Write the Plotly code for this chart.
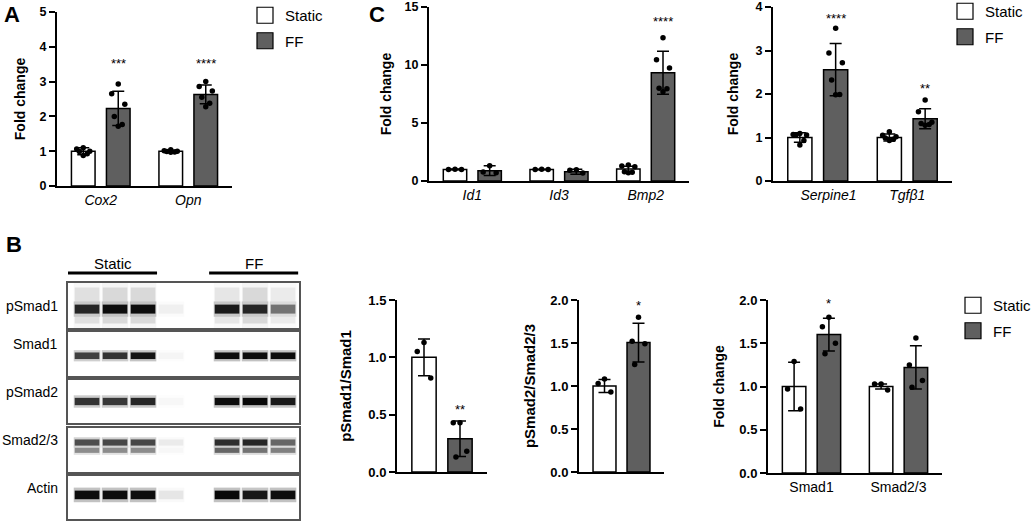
import plotly.graph_objects as go

W, H = 1031, 522
FONT = "Arial, 'Liberation Sans', Helvetica, sans-serif"
STATIC_FILL = "white"
FF_FILL = "#5f5f5f"

# ---- Panel A: Cox2 / Opn fold change (mean, SD, individual points)
a_genes = ["Cox2", "Opn"]
a_static_mean = [1.00, 1.00]
a_static_sd = [0.10, 0.03]
a_ff_mean = [2.23, 2.63]
a_ff_sd = [0.49, 0.27]
a_static_pts = [[1.10, 1.06, 1.00, 0.99, 0.93, 0.88], [1.04, 1.01, 1.00, 0.99, 0.98, 0.97]]
a_ff_pts = [[2.93, 2.65, 2.35, 2.00, 1.77, 1.72], [3.00, 2.86, 2.73, 2.55, 2.38, 2.28]]
a_stars = ["***", "****"]
a_star_y = [3.6, 3.6]

# ---- Panel C (left): Id1 / Id3 / Bmp2
c1_genes = ["Id1", "Id3", "Bmp2"]
c1_static_mean = [1.00, 1.00, 1.03]
c1_static_sd = [0.03, 0.02, 0.25]
c1_ff_mean = [0.89, 0.80, 9.33]
c1_ff_sd = [0.42, 0.22, 1.85]
c1_static_pts = [[1.02, 1.00, 0.99], [1.02, 1.00, 0.99], [1.38, 1.30, 1.22, 0.80, 0.76, 0.72]]
c1_ff_pts = [[1.32, 0.78, 0.72], [0.97, 0.93, 0.70], [12.35, 10.45, 9.75, 8.00, 7.95, 7.70]]
c1_stars = ["", "", "****"]
c1_star_y = [0, 0, 14.0]

# ---- Panel C (right): Serpine1 / Tgfb1
c2_genes = ["Serpine1", "Tgfβ1"]
c2_static_mean = [1.00, 1.00]
c2_static_sd = [0.11, 0.08]
c2_ff_mean = [2.56, 1.43]
c2_ff_sd = [0.60, 0.23]
c2_static_pts = [[1.09, 1.07, 1.06, 1.05, 0.93, 0.83], [1.13, 1.05, 1.02, 0.99, 0.96, 0.93]]
c2_ff_pts = [[3.51, 2.94, 2.72, 2.32, 1.99, 1.98], [1.86, 1.59, 1.35, 1.32, 1.30, 1.28]]
c2_stars = ["****", "**"]
c2_star_y = [3.80, 2.20]

# ---- Panel B quantification
b1_static_mean, b1_static_sd, b1_static_pts = [1.00], [0.16], [[1.13, 1.05, 0.82]]
b1_ff_mean, b1_ff_sd, b1_ff_pts = [0.29], [0.155], [[0.43, 0.43, 0.18, 0.13]]
b2_static_mean, b2_static_sd, b2_static_pts = [1.00], [0.075], [[1.08, 1.03, 0.93]]
b2_ff_mean, b2_ff_sd, b2_ff_pts = [1.505], [0.225], [[1.80, 1.52, 1.49, 1.25]]
b3_proteins = ["Smad1", "Smad2/3"]
b3_static_mean = [1.00, 1.00]
b3_static_sd = [0.28, 0.03]
b3_ff_mean = [1.60, 1.22]
b3_ff_sd = [0.19, 0.25]
b3_static_pts = [[1.29, 0.97, 0.74], [1.03, 1.03, 0.96]]
b3_ff_pts = [[1.80, 1.69, 1.50, 1.38], [1.56, 1.25, 1.07, 0.99]]

# ---- Panel B western blot (band darkness 0..1 per lane; lanes 0-2 Static, 3-4 empty, 5-7 FF)
blot_rows = ["pSmad1", "Smad1", "pSmad2", "Smad2/3", "Actin"]
lanes = [0, 1, 2, 3, 4, 5, 6, 7]
psmad1_smear = [0.12, 0.15, 0.15, 0.0, 0.0, 0.1, 0.15, 0.08]
psmad1_band = [0.85, 0.95, 0.95, 0.06, 0.0, 0.9, 0.85, 0.55]
smad1_band = [0.75, 0.8, 0.92, 0.04, 0.0, 0.95, 0.95, 0.95]
psmad2_band = [0.8, 0.78, 0.85, 0.03, 0.0, 0.95, 0.97, 0.9]
smad23_upper = [0.7, 0.72, 0.72, 0.08, 0.0, 0.82, 0.85, 0.6]
smad23_lower = [0.45, 0.45, 0.45, 0.03, 0.0, 0.6, 0.55, 0.5]
actin_band = [0.95, 0.95, 0.95, 0.1, 0.0, 0.97, 0.9, 0.95]

OFF, BW = 0.2, 0.27


def dom_x(a, b):
    return [a / W, b / W]


def dom_y(top, bottom):
    return [1 - bottom / H, 1 - top / H]


def spread(n):
    pattern = [0, -1, 1, -0.6, 0.6, 0, -1, 1]
    return [p * 0.075 for p in pattern[:n]]


def grey(v):
    g = round(255 * (1 - v))
    return f"rgb({g},{g},{g})"


fig = go.Figure()
annotations = []


def bar_panel(k, s_mean, s_sd, f_mean, f_sd, s_pts, f_pts, stars=None, star_y=None):
    xa, ya = f"x{k}", f"y{k}"
    xs = list(range(len(s_mean)))
    for sign, mean, sd, fill in [(-1, s_mean, s_sd, STATIC_FILL), (1, f_mean, f_sd, FF_FILL)]:
        fig.add_trace(go.Bar(
            x=[i + sign * OFF for i in xs], y=mean, width=BW,
            marker=dict(color=fill, line=dict(color="black", width=1.5)),
            error_y=dict(type="data", array=sd, color="black", thickness=1.5, width=6),
            xaxis=xa, yaxis=ya, showlegend=False, hoverinfo="skip"))
    px, py = [], []
    for sign, pts_list in [(-1, s_pts), (1, f_pts)]:
        for i, pts in enumerate(pts_list):
            px += [i + sign * OFF + d for d in spread(len(pts))]
            py += pts
    fig.add_trace(go.Scatter(x=px, y=py, mode="markers",
                             marker=dict(color="black", size=5.5),
                             xaxis=xa, yaxis=ya, showlegend=False, hoverinfo="skip"))
    if stars:
        for i, (s, y) in enumerate(zip(stars, star_y)):
            if s:
                annotations.append(dict(x=i + OFF, y=y, xref=xa, yref=ya, text=s, showarrow=False,
                                        xanchor="center", yshift=-3,
                                        font=dict(family=FONT, size=13, color="black")))


bar_panel(1, a_static_mean, a_static_sd, a_ff_mean, a_ff_sd, a_static_pts, a_ff_pts, a_stars, a_star_y)
bar_panel(2, c1_static_mean, c1_static_sd, c1_ff_mean, c1_ff_sd, c1_static_pts, c1_ff_pts, c1_stars, c1_star_y)
bar_panel(3, c2_static_mean, c2_static_sd, c2_ff_mean, c2_ff_sd, c2_static_pts, c2_ff_pts, c2_stars, c2_star_y)
bar_panel(4, b1_static_mean, b1_static_sd, b1_ff_mean, b1_ff_sd, b1_static_pts, b1_ff_pts, ["**"], [0.57])
bar_panel(5, b2_static_mean, b2_static_sd, b2_ff_mean, b2_ff_sd, b2_static_pts, b2_ff_pts, ["*"], [1.97])
bar_panel(6, b3_static_mean, b3_static_sd, b3_ff_mean, b3_ff_sd, b3_static_pts, b3_ff_pts, ["*", ""], [2.0, 0])

# legend swatches (one legend per block)
for lg, ax in [("legend", "1"), ("legend2", "3"), ("legend3", "6")]:
    for name, fill in [("Static", STATIC_FILL), ("FF", FF_FILL)]:
        fig.add_trace(go.Scatter(x=[None], y=[None], mode="markers", name=name, legend=lg,
                                 legendgroup=lg + name,
                                 marker=dict(symbol="square", size=16, color=fill,
                                             line=dict(color="black", width=1.2)),
                                 xaxis="x" + ax, yaxis="y" + ax))

# western blot rows
row_px = [(283, 328), (332, 376), (380, 423), (428, 472), (476, 519)]
row_bands = [
    [(psmad1_smear, 0.5, 0.8), (psmad1_band, 0.42, 0.2)],
    [(smad1_band, 0.46, 0.15)],
    [(psmad2_band, 0.5, 0.17)],
    [(smad23_lower, 0.5, 0.13), (smad23_upper, 0.67, 0.14)],
    [(actin_band, 0.56, 0.2)],
]
for r, bands in enumerate(row_bands):
    k = 7 + r
    for vals, c, t in bands:
        fig.add_trace(go.Bar(x=lanes, y=[t * 1.7] * len(lanes), base=c - t * 0.85, width=0.95,
                             marker=dict(color=[grey(v * 0.25) for v in vals], line=dict(width=0)),
                             xaxis=f"x{k}", yaxis=f"y{k}", showlegend=False, hoverinfo="skip"))
        fig.add_trace(go.Bar(x=lanes, y=[t] * len(lanes), base=c - t / 2, width=0.88,
                             marker=dict(color=[grey(v) for v in vals], line=dict(width=0)),
                             xaxis=f"x{k}", yaxis=f"y{k}", showlegend=False, hoverinfo="skip"))


def yaxis(dom, top, dtick, fmt, title, standoff, anchor, tsize=12.5, title_size=14):
    return dict(domain=dom, range=[0, top], dtick=dtick, tickformat=fmt, anchor=anchor,
                showline=True, linecolor="black", linewidth=2, ticks="outside", ticklen=6,
                tickwidth=2, tickcolor="black", showgrid=False, zeroline=False, automargin=False,
                tickfont=dict(family=FONT, size=tsize, color="black", weight="bold"),
                title=dict(text=title, standoff=standoff,
                           font=dict(family=FONT, size=title_size, color="black", weight="bold")))


def xaxis(dom, cats, anchor, italic=True, size=14, n=None, label_pos=None):
    n = len(cats) if cats else n
    pos = label_pos or list(range(n))
    return dict(domain=dom, range=[-0.5, n - 0.5], anchor=anchor, showline=True, linecolor="black",
                linewidth=2, ticks="", showgrid=False, zeroline=False, automargin=False,
                tickvals=pos if cats else [], ticktext=cats or [],
                tickfont=dict(family=FONT, size=size, color="black",
                              style="italic" if italic else "normal"))


lay = dict(
    xaxis=xaxis(dom_x(57, 232), a_genes, "y"),
    yaxis=yaxis(dom_y(12, 186), 5, 1, "d", "Fold change", 11, "x"),
    xaxis2=xaxis(dom_x(429, 689), c1_genes, "y2"),
    yaxis2=yaxis(dom_y(7, 181), 15, 5, "d", "Fold change", 10, "x2"),
    xaxis3=xaxis(dom_x(773, 952), c2_genes, "y3", label_pos=[0.12, 1.0]),
    yaxis3=yaxis(dom_y(7, 181), 4, 1, "d", "Fold change", 14, "x3"),
    xaxis4=xaxis(dom_x(397, 487), None, "y4", n=1),
    yaxis4=yaxis(dom_y(300, 472), 1.5, 0.5, ".1f", "pSmad1/Smad1", 13, "x4", 13, 15),
    xaxis5=xaxis(dom_x(579, 664), None, "y5", n=1),
    yaxis5=yaxis(dom_y(300, 472), 2, 0.5, ".1f", "pSmad2/Smad2/3", 11, "x5", 13, 15),
    xaxis6=xaxis(dom_x(768, 942), b3_proteins, "y6", italic=False, size=14),
    yaxis6=yaxis(dom_y(300, 473), 2, 0.5, ".1f", "Fold change", 11, "x6", 13, 14),
)
for r, (t, b) in enumerate(row_px):
    k = 7 + r
    lay[f"xaxis{k}"] = dict(domain=dom_x(68, 299), range=[-0.68, 7.57], anchor=f"y{k}",
                            showline=True, mirror=True, linecolor="#555", linewidth=1.5,
                            automargin=False,
                            showticklabels=False, ticks="", showgrid=False, zeroline=False)
    lay[f"yaxis{k}"] = dict(domain=dom_y(t, b), range=[0, 1], anchor=f"x{k}",
                            showline=True, mirror=True, linecolor="#555", linewidth=1.5,
                            automargin=False,
                            showticklabels=False, ticks="", showgrid=False, zeroline=False)
    annotations.append(dict(x=60 / W, y=1 - (t + b) / 2 / H, xref="paper", yref="paper",
                            xanchor="right", text=blot_rows[r], showarrow=False,
                            font=dict(family=FONT, size=14, color="black")))

# blot header
for label, x0, x1 in [("Static", -0.68, 2.5), ("FF", 4.36, 7.54)]:
    annotations.append(dict(x=(x0 + x1) / 2, y=1 - 263 / H, xref="x7", yref="paper", text=label,
                            xanchor="center", showarrow=False,
                            font=dict(family=FONT, size=15, color="black")))
shapes = [dict(type="line", xref="x7", yref="paper", x0=x0, x1=x1, y0=1 - 273 / H, y1=1 - 273 / H,
               line=dict(color="black", width=3))
          for x0, x1 in [(-0.68, 2.5), (4.36, 7.54)]]

# panel letters
for letter, x, y in [("A", 12, 14), ("B", 14, 245), ("C", 377, 14)]:
    annotations.append(dict(x=x / W, y=1 - y / H, xref="paper", yref="paper", text=letter,
                            xanchor="center", yanchor="middle", showarrow=False,
                            font=dict(family=FONT, size=22, color="black", weight="bold")))

legend_style = dict(xanchor="left", yanchor="top", bgcolor="rgba(0,0,0,0)", borderwidth=0,
                    tracegroupgap=3, font=dict(family=FONT, size=15, color="black"),
                    itemclick=False)
fig.update_layout(
    **lay,
    template="none",
    width=W, height=H, margin=dict(l=0, r=0, t=0, b=0, autoexpand=False),
    paper_bgcolor="white", plot_bgcolor="white",
    barmode="overlay",
    showlegend=True,
    legend=dict(x=245 / W, y=1 + 1 / H, **legend_style),
    legend2=dict(x=945 / W, y=1 + 5 / H, **legend_style),
    legend3=dict(x=953 / W, y=1 - 289 / H, **legend_style),
    annotations=annotations,
    shapes=shapes,
)

fig.write_html("out.html", config={"displayModeBar": False},
               post_script="document.body.style.margin='0';")
